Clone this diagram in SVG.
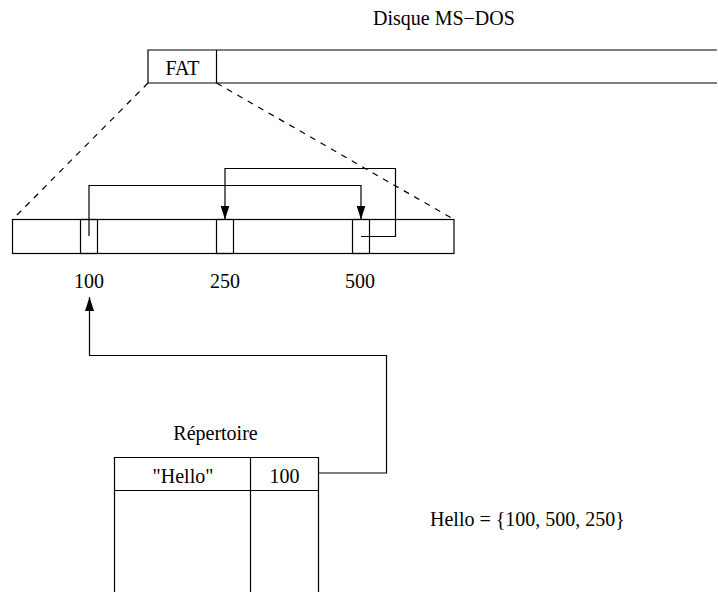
<svg xmlns="http://www.w3.org/2000/svg" width="718" height="592" viewBox="0 0 718 592">
<style>
text{font-family:"Liberation Serif","Times New Roman",serif;font-size:20px;fill:#000}
.s{fill:none;stroke:#000;stroke-width:1.2}
.d{fill:none;stroke:#000;stroke-width:1.2;stroke-dasharray:6,6}
</style>
<defs>
<marker id="ah" viewBox="0 0 14 9" refX="14" refY="4.5" markerWidth="14" markerHeight="9" markerUnits="userSpaceOnUse" orient="auto">
<path d="M0,0 L14,4.5 L0,9 Z" fill="#000"/>
</marker>
</defs>
<rect width="718" height="592" fill="#fff"/>
<g id="disk">
<text x="373" y="25">Disque MS−DOS</text>
<path class="s" d="M717,50 H148 V83 H717"/>
<line class="s" x1="216.5" y1="50" x2="216.5" y2="83"/>
<text x="182.5" y="75" text-anchor="middle">FAT</text>
</g>
<g id="fat">
<rect class="s" x="12.5" y="219.5" width="441.5" height="34"/>
<rect class="s" x="80.5" y="219.5" width="17" height="34"/>
<rect class="s" x="216.5" y="219.5" width="17" height="34"/>
<rect class="s" x="352.5" y="219.5" width="17" height="34"/>
<text x="89" y="288" text-anchor="middle">100</text>
<text x="225" y="288" text-anchor="middle">250</text>
<text x="360" y="288" text-anchor="middle">500</text>
</g>
<g id="repertoire">
<text x="215.5" y="440" text-anchor="middle">Répertoire</text>
<path class="s" d="M114.5,592 V457.5 H318.5 V592"/>
<line class="s" x1="114.5" y1="490.5" x2="318.5" y2="490.5"/>
<line class="s" x1="250.5" y1="457.5" x2="250.5" y2="592"/>
<text x="183" y="483" text-anchor="middle">"Hello"</text>
<text x="284.5" y="483" text-anchor="middle">100</text>
</g>
<g id="hello">
<text x="430" y="526">Hello = {100, 500, 250}</text>
</g>
<g id="connectors">
<line class="d" x1="148" y1="83" x2="12.5" y2="219.5"/>
<line class="d" x1="216.5" y1="83" x2="454" y2="219.5"/>
<path class="s" d="M89,236 V185.5 H361 V219.5" marker-end="url(#ah)"/>
<path class="s" d="M361,236.5 H395.5 V168.5 H225 V219.5" marker-end="url(#ah)"/>
<path class="s" d="M318.5,473 H386.5 V355.5 H89.5 V297" marker-end="url(#ah)"/>
</g>
</svg>
